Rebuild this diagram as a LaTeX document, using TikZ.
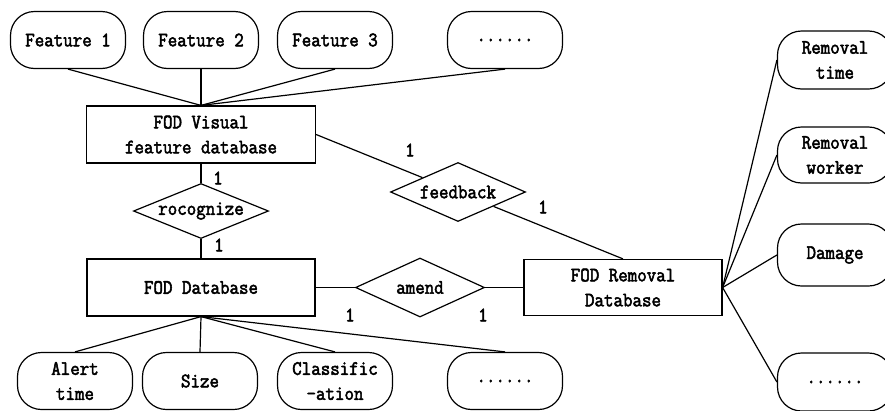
\documentclass[tikz,border=0pt]{standalone}
\usepackage{fontspec}
\setmonofont[FakeBold=2.5,FakeStretch=0.9]{Latin Modern Mono}
\usetikzlibrary{shapes.geometric}
\begin{document}
\begin{tikzpicture}[x=1pt,y=-1pt,line width=1.2pt,
  every node/.style={font=\ttfamily\fontsize{20.5}{25}\selectfont},
  attr/.style={draw,rounded corners=24pt,minimum width=115pt,minimum height=57pt,align=center,inner sep=0pt},
  ent/.style={draw,minimum height=57pt,align=center,inner sep=0pt},
  rel/.style={draw,diamond,aspect=2.4,inner sep=0pt},
  card/.style={inner sep=0pt}]
\useasboundingbox (0,0) rectangle (885,410);
\clip (0,0) rectangle (885,410);
\fill[white] (0,0) rectangle (885,410);
% top attributes
\node[attr] (f1) at (68,40) {Feature 1};
\node[attr] (f2) at (201,40) {Feature 2};
\node[attr] (f3) at (335,40) {Feature 3};
\node[attr] (f4) at (505,40) {......};
% entities and relations
\node[ent,minimum width=229pt] (vis) at (201,134.5) {FOD Visual\\feature database};
\node[rel,minimum width=135pt,minimum height=55pt] (rec) at (201,211) {rocognize};
\node[rel,minimum width=135pt,minimum height=59pt] (fb) at (458,192) {feedback};
\node[ent,minimum width=228pt] (db) at (201,287.5) {FOD Database};
\node[rel,minimum width=129pt,minimum height=59pt] (am) at (420,287.5) {amend};
\node[ent,minimum width=198pt,minimum height=56pt] (rem) at (623,287.5) {FOD Removal\\Database};
% bottom attributes
\node[attr] (a1) at (75,381) {Alert\\time};
\node[attr] (a2) at (200,381) {Size};
\node[attr] (a3) at (335,381) {Classific\\-ation};
\node[attr] (a4) at (505,381) {......};
% right attributes
\node[attr,minimum height=58pt] (r1) at (835,60) {Removal\\time};
\node[attr,minimum height=56pt] (r2) at (835,155) {Removal\\worker};
\node[attr,minimum height=62pt] (r3) at (835,255) {Damage};
\node[attr,minimum height=58pt] (r4) at (835,382) {......};
% cardinalities
\node[card] (c1) at (218,178) {1};
\node[card] (c2) at (219,245) {1};
\node[card] (c3) at (410,150) {1};
\node[card] (c4) at (543,207) {1};
\node[card] (c5) at (350,315) {1};
\node[card] (c6) at (483,315) {1};
% connectors
\foreach \n in {f1,f2,f3,f4} \draw (\n.south) -- (vis.north);
\foreach \n in {a1,a2,a3,a4} \draw (db.south) -- (\n.north);
\foreach \n in {r1,r2,r3,r4} \draw (rem.east) -- (\n.west);
\draw (vis) -- (rec) -- (db);
\draw (vis.east) -- (fb);
\draw (rem.north) -- (fb);
\draw (db) -- (am) -- (rem);
\end{tikzpicture}
\end{document}
